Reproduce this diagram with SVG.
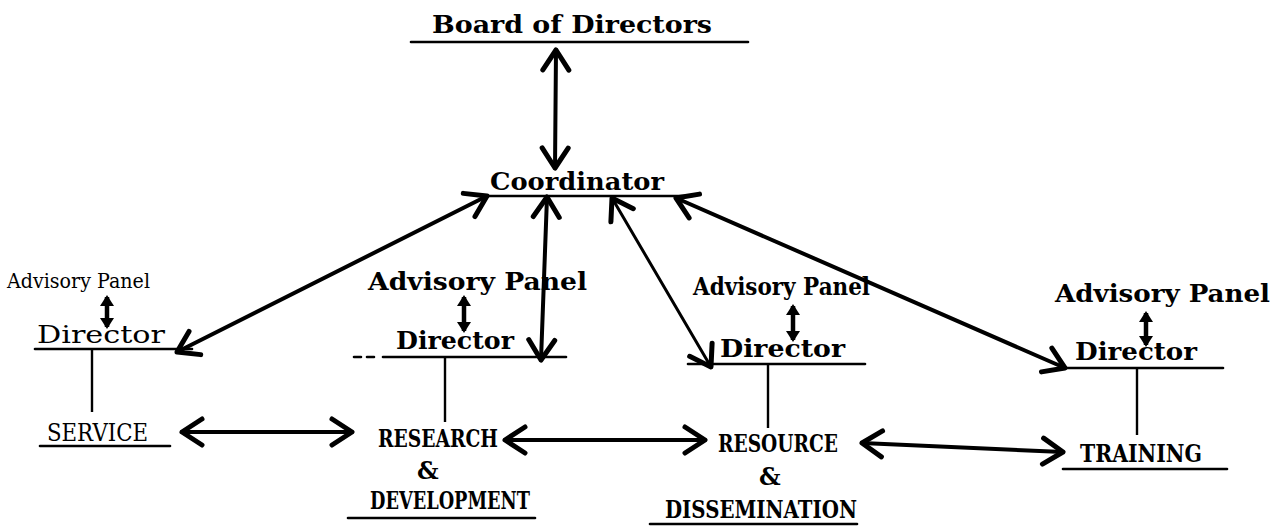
<svg xmlns="http://www.w3.org/2000/svg" width="1275" height="530" viewBox="0 0 1275 530">
<style>
  .t { font-family: "DejaVu Serif", "Liberation Serif", serif; fill: #000; }
  .b { font-weight: bold; font-size: 24px; }
  .n { font-weight: normal; font-size: 24px; }
  .s { font-weight: normal; font-size: 21px; }
  .u { font-family: "DejaVu Serif", "Liberation Serif", serif; font-weight: bold; font-size: 24px; fill: #000; }
  .ul { stroke: #000; stroke-width: 2.6; stroke-linecap: round; fill: none; }
  .c { stroke: #000; stroke-width: 4; stroke-linecap: round; fill: none; }
  .ct { stroke: #000; stroke-width: 3; stroke-linecap: round; fill: none; }
  .v { stroke: #000; stroke-width: 2.4; fill: none; }
  .sm { stroke: #000; stroke-width: 4.5; fill: none; }
</style>
<defs>
  <marker id="ah" markerUnits="userSpaceOnUse" viewBox="-26 -18 30 36" markerWidth="30" markerHeight="36" refX="0" refY="0" orient="auto-start-reverse">
    <path d="M-20,-13 L0,0 L-20,13" fill="none" stroke="#000" stroke-width="5" stroke-linecap="round" stroke-linejoin="round"/>
  </marker>
  <marker id="sh" markerUnits="userSpaceOnUse" viewBox="-12 -9 15 18" markerWidth="15" markerHeight="18" refX="0" refY="0" orient="auto-start-reverse">
    <path d="M-9,-7 L2,0 L-9,7 z" fill="#000"/>
  </marker>
</defs>

<g id="board">
  <text class="t b" x="432" y="33" textLength="280" lengthAdjust="spacingAndGlyphs">Board of Directors</text>
  <line class="ul" x1="411" y1="42" x2="748" y2="42"/>
</g>
<g id="coordinator">
  <text class="t b" x="490" y="190" textLength="174" lengthAdjust="spacingAndGlyphs">Coordinator</text>
  <line class="ul" x1="486" y1="196" x2="692" y2="196"/>
</g>

<g id="service-panel">
  <text class="t s" x="7" y="288" textLength="143" lengthAdjust="spacingAndGlyphs">Advisory Panel</text>
</g>
<g id="service-director">
  <text class="t n" x="37" y="343" textLength="128" lengthAdjust="spacingAndGlyphs">Director</text>
  <line class="ul" x1="35" y1="349" x2="192" y2="349"/>
</g>
<g id="service">
  <text class="t n" x="47" y="441" textLength="101" lengthAdjust="spacingAndGlyphs">SERVICE</text>
  <line class="ul" x1="40" y1="446" x2="170" y2="446"/>
</g>

<g id="rd-panel">
  <text class="t b" x="368" y="290" textLength="219" lengthAdjust="spacingAndGlyphs">Advisory Panel</text>
</g>
<g id="rd-director">
  <text class="t b" x="396" y="349" textLength="118" lengthAdjust="spacingAndGlyphs">Director</text>
  <line class="ul" x1="354" y1="357" x2="380" y2="357" stroke-dasharray="7 6"/>
  <line class="ul" x1="383" y1="357" x2="566" y2="357"/>
</g>
<g id="research-development">
  <text class="u" x="378" y="447" textLength="120" lengthAdjust="spacingAndGlyphs">RESEARCH</text>
  <text class="u" x="417" y="479">&amp;</text>
  <text class="u" x="370" y="509" textLength="160" lengthAdjust="spacingAndGlyphs">DEVELOPMENT</text>
  <line class="ul" x1="348" y1="518" x2="535" y2="518"/>
</g>

<g id="rd2-panel">
  <text class="t b" x="693" y="295" textLength="177" lengthAdjust="spacingAndGlyphs">Advisory Panel</text>
</g>
<g id="rd2-director">
  <text class="t b" x="720" y="357" textLength="125" lengthAdjust="spacingAndGlyphs">Director</text>
  <line class="ul" x1="688" y1="364" x2="865" y2="364"/>
</g>
<g id="resource-dissemination">
  <text class="u" x="718" y="452" textLength="120" lengthAdjust="spacingAndGlyphs">RESOURCE</text>
  <text class="u" x="759" y="485">&amp;</text>
  <text class="u" x="665" y="518" textLength="192" lengthAdjust="spacingAndGlyphs">DISSEMINATION</text>
  <line class="ul" x1="650" y1="524" x2="857" y2="524"/>
</g>

<g id="training-panel">
  <text class="t b" x="1055" y="302" textLength="215" lengthAdjust="spacingAndGlyphs">Advisory Panel</text>
</g>
<g id="training-director">
  <text class="t b" x="1075" y="360" textLength="122" lengthAdjust="spacingAndGlyphs">Director</text>
  <line class="ul" x1="1063" y1="368" x2="1223" y2="368"/>
</g>
<g id="training">
  <text class="t b" x="1080" y="462" textLength="122" lengthAdjust="spacingAndGlyphs">TRAINING</text>
  <line class="ul" x1="1063" y1="469" x2="1227" y2="469"/>
</g>

<g id="connectors">
  <line class="c" x1="556" y1="50" x2="555" y2="168" marker-start="url(#ah)" marker-end="url(#ah)"/>
  <line class="c" x1="487" y1="196" x2="177" y2="352" marker-start="url(#ah)" marker-end="url(#ah)"/>
  <line class="c" x1="547" y1="197" x2="541" y2="360" marker-start="url(#ah)" marker-end="url(#ah)"/>
  <line class="ct" x1="612" y1="198" x2="711" y2="367" marker-start="url(#ah)" marker-end="url(#ah)"/>
  <line class="c" x1="676" y1="198" x2="1065" y2="368" marker-start="url(#ah)" marker-end="url(#ah)"/>

  <line class="sm" x1="107" y1="297" x2="107" y2="327" marker-start="url(#sh)" marker-end="url(#sh)"/>
  <line class="sm" x1="464" y1="297" x2="464" y2="331" marker-start="url(#sh)" marker-end="url(#sh)"/>
  <line class="sm" x1="793" y1="306" x2="793" y2="340" marker-start="url(#sh)" marker-end="url(#sh)"/>
  <line class="sm" x1="1146" y1="313" x2="1146" y2="345" marker-start="url(#sh)" marker-end="url(#sh)"/>

  <line class="v" x1="92" y1="350" x2="92" y2="412"/>
  <line class="v" x1="445" y1="358" x2="445" y2="422"/>
  <line class="v" x1="768" y1="365" x2="768" y2="428"/>
  <line class="v" x1="1137" y1="369" x2="1137" y2="435"/>

  <line class="c" x1="182" y1="432" x2="352" y2="432" marker-start="url(#ah)" marker-end="url(#ah)"/>
  <line class="c" x1="505" y1="440" x2="705" y2="440" marker-start="url(#ah)" marker-end="url(#ah)"/>
  <line class="c" x1="862" y1="443" x2="1063" y2="452" marker-start="url(#ah)" marker-end="url(#ah)"/>
</g>
</svg>
